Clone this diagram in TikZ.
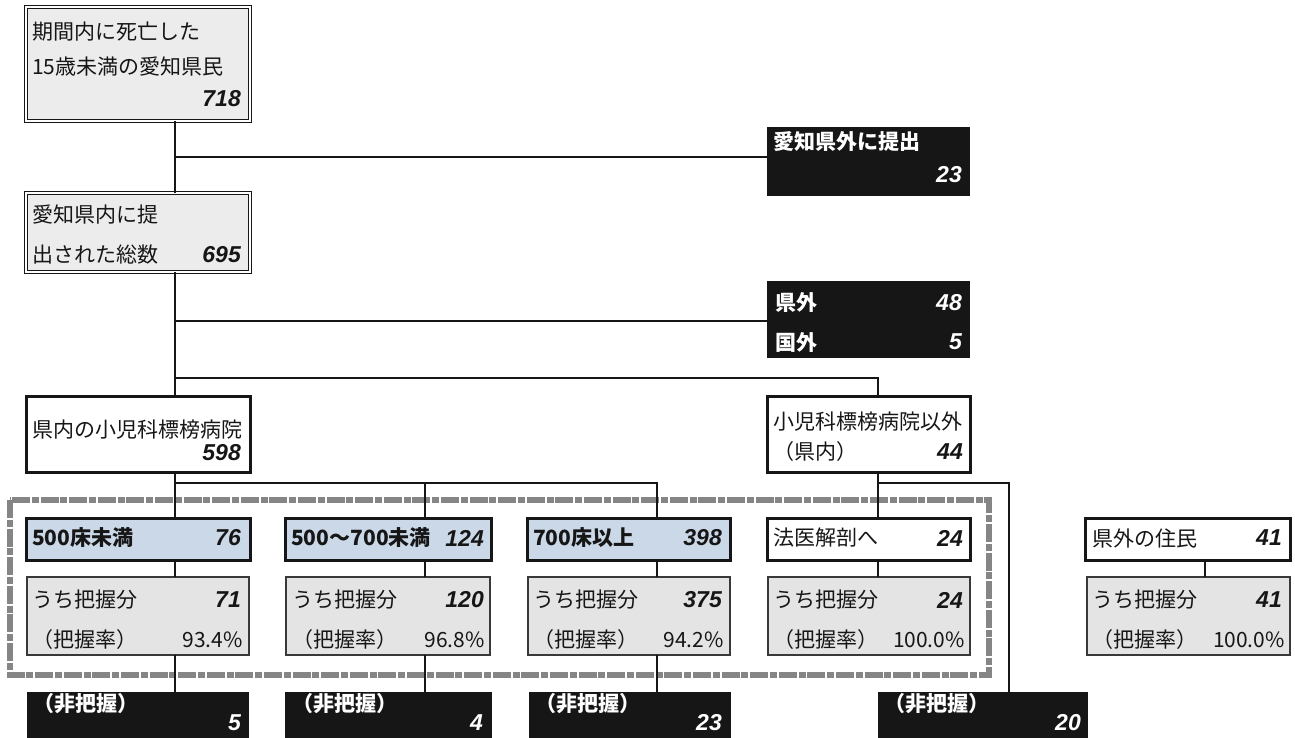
\documentclass[tikz,border=0pt]{standalone}
\usepackage{fontspec}
\setmainfont{Noto Sans CJK JP}
\newfontfamily\numfont{Liberation Sans}
\usetikzlibrary{calc}
\definecolor{topgray}{HTML}{ECECEC}
\definecolor{midgray}{HTML}{E4E4E4}
\definecolor{lblue}{HTML}{CBD8E8}
\definecolor{ink}{HTML}{161616}
\definecolor{dashgray}{HTML}{858585}
\newcommand\mkbox[6]{\node[#2, minimum width={#5-#3}, minimum height={#6-#4}] (#1) at ({(#3+#5)/2},{(#4+#6)/2}) {};}
\begin{document}
\begin{tikzpicture}[x=1pt,y=-1pt,
  basebox/.style={inner sep=0pt, outer sep=0pt},
  dblbox/.style={basebox, draw=ink, line width=0.9pt, double=white, double distance=2pt, fill=topgray},
  heavybox/.style={basebox, draw=ink, line width=3pt, fill=white},
  bluebox/.style={heavybox, fill=lblue},
  greybox/.style={basebox, draw=ink!85, line width=1.2pt, fill=midgray},
  blkbox/.style={basebox, fill=ink},
  jp/.style={inner sep=0pt, font=\fontsize{21}{24}\selectfont, text=ink},
  jpb/.style={jp, font=\fontsize{21}{24}\selectfont\bfseries},
  wt/.style={jpb, text=white},
  num/.style={inner sep=0pt, font=\fontsize{23}{26}\selectfont\numfont\bfseries\itshape, text=ink},
  wnum/.style={num, text=white},
  link/.style={draw=ink, line width=1.3pt},
  frame/.style={draw=dashgray, line width=6.5pt, dash pattern=on 18pt off 1.8pt on 7pt off 1.8pt}
]
\useasboundingbox (0,0) rectangle (1295,738);
\fill[white] (0,0) rectangle (1295,738);

% dashed group frame
\draw[frame] (10,500) rectangle (989,675);

% column coordinates
\coordinate (c1) at (175,0);
\coordinate (c2) at (425,0);
\coordinate (c3) at (657,0);
\coordinate (c4) at (878,0);
\coordinate (c5) at (1205,0);
\coordinate (c6) at (1009,0);

% boxes
\mkbox{n718}{dblbox}{26}{7}{250}{121}
\mkbox{n695}{dblbox}{26}{193}{250}{272}
\mkbox{n23}{blkbox}{767}{127}{970}{196}
\mkbox{n48}{blkbox}{767}{281}{970}{358}
\mkbox{n598}{heavybox}{26}{396}{250}{472}
\mkbox{n44}{heavybox}{767}{396}{970}{472}

\mkbox{b1}{bluebox}{26}{518}{250}{560}
\mkbox{b2}{bluebox}{285}{518}{491}{560}
\mkbox{b3}{bluebox}{527}{518}{730}{560}
\mkbox{b4}{heavybox}{767}{518}{970}{560}
\mkbox{b5}{heavybox}{1085}{518}{1290}{560}

\mkbox{g1}{greybox}{27}{577}{249}{655}
\mkbox{g2}{greybox}{286}{577}{490}{655}
\mkbox{g3}{greybox}{528}{577}{730}{655}
\mkbox{g4}{greybox}{768}{577}{970}{655}
\mkbox{g5}{greybox}{1087}{577}{1290}{655}

\mkbox{k1}{blkbox}{27}{692}{249}{760}
\mkbox{k2}{blkbox}{285}{692}{492}{760}
\mkbox{k3}{blkbox}{529}{692}{731}{760}
\mkbox{k4}{blkbox}{878}{692}{1088}{760}

% connectors
\coordinate (j1) at (175,157);
\coordinate (j2) at (175,321);
\coordinate (j3) at (175,378);
\coordinate (j4) at (175,483);
\coordinate (j5) at (878,483);
\draw[link] (n718.south -| c1) -- (n695.north -| c1);
\draw[link] (j1) -- (j1 -| n23.west);
\draw[link] (n695.south -| c1) -- (n598.north -| c1);
\draw[link] (j2) -- (j2 -| n48.west);
\draw[link] (j3) -| (n44.north -| c4);
\draw[link] (n598.south -| c1) -- (b1.north -| c1);
\draw[link] (j4) -| (b3.north -| c3);
\draw[link] (j4 -| c2) -- (b2.north -| c2);
\draw[link] (n44.south -| c4) -- (b4.north -| c4);
\draw[link] (j5) -| (k4.north -| c6);
\draw[link] (b1.south -| c1) -- (g1.north -| c1);
\draw[link] (b2.south -| c2) -- (g2.north -| c2);
\draw[link] (b3.south -| c3) -- (g3.north -| c3);
\draw[link] (b4.south -| c4) -- (g4.north -| c4);
\draw[link] (b5.south -| c5) -- (g5.north -| c5);
\draw[link] (g1.south -| c1) -- (k1.north -| c1);
\draw[link] (g2.south -| c2) -- (k2.north -| c2);
\draw[link] (g3.south -| c3) -- (k3.north -| c3);

% texts
\node[jp, anchor=west] (t1) at (32,32) {期間内に死亡した};
\node[jp, anchor=west] (t2) at (32,67) {15歳未満の愛知県民};
\node[num, anchor=east] (t3) at (241,99) {718};

\node[jp, anchor=west] (t4) at (32,215) {愛知県内に提};
\node[jp, anchor=west] (t5) at (32,255) {出された総数};
\node[num, anchor=east] (t6) at (241,255) {695};

\node[wt, anchor=west] (t7) at (773,142) {愛知県外に提出};
\node[wnum, anchor=east] (t8) at (962,175) {23};

\node[wt, anchor=west] (t9) at (775,303) {県外};
\node[wnum, anchor=east] (t10) at (962,303) {48};
\node[wt, anchor=west] (t11) at (775,342) {国外};
\node[wnum, anchor=east] (t12) at (962,342) {5};

\node[jp, anchor=west] (t13) at (32,430) {県内の小児科標榜病院};
\node[num, anchor=east] (t14) at (241,453) {598};

\node[jp, anchor=west] (t15) at (773,422) {小児科標榜病院以外};
\node[jp, anchor=west] (t16) at (773,452) {（県内）};
\node[num, anchor=east] (t17) at (963,452) {44};

\node[jpb, anchor=west] (r1) at (32,538) {500床未満};
\node[num, anchor=east] (r2) at (241,538) {76};
\node[jpb, anchor=west] (r3) at (291,538) {500～700未満};
\node[num, anchor=east] (r4) at (484,538) {124};
\node[jpb, anchor=west] (r5) at (533,538) {700床以上};
\node[num, anchor=east] (r6) at (722,538) {398};
\node[jp, anchor=west] (r7) at (773,538) {法医解剖へ};
\node[num, anchor=east] (r8) at (963,538) {24};
\node[jp, anchor=west] (r9) at (1092,538) {県外の住民};
\node[num, anchor=east] (r10) at (1282,538) {41};

\node[jp, anchor=west] (u1) at (32,600) {うち把握分};
\node[num, anchor=east] (u2) at (241,600) {71};
\node[jp, anchor=west] (u3) at (32,640) {（把握率）};
\node[jp, anchor=east] (u4) at (243,640) {93.4\%};

\node[jp, anchor=west] (u5) at (292,600) {うち把握分};
\node[num, anchor=east] (u6) at (484,600) {120};
\node[jp, anchor=west] (u7) at (292,640) {（把握率）};
\node[jp, anchor=east] (u8) at (485,640) {96.8\%};

\node[jp, anchor=west] (u9) at (533,600) {うち把握分};
\node[num, anchor=east] (u10) at (722,600) {375};
\node[jp, anchor=west] (u11) at (533,640) {（把握率）};
\node[jp, anchor=east] (u12) at (724,640) {94.2\%};

\node[jp, anchor=west] (u13) at (773,600) {うち把握分};
\node[num, anchor=east] (u14) at (963,600) {24};
\node[jp, anchor=west] (u15) at (773,640) {（把握率）};
\node[jp, anchor=east] (u16) at (965,640) {100.0\%};

\node[jp, anchor=west] (u17) at (1092,600) {うち把握分};
\node[num, anchor=east] (u18) at (1282,600) {41};
\node[jp, anchor=west] (u19) at (1092,640) {（把握率）};
\node[jp, anchor=east] (u20) at (1285,640) {100.0\%};

\node[wt, anchor=west] (v1) at (33,704) {（非把握）};
\node[wnum, anchor=east] (v2) at (241,723) {5};
\node[wt, anchor=west] (v3) at (292,704) {（非把握）};
\node[wnum, anchor=east] (v4) at (483,723) {4};
\node[wt, anchor=west] (v5) at (535,704) {（非把握）};
\node[wnum, anchor=east] (v6) at (722,723) {23};
\node[wt, anchor=west] (v7) at (884,704) {（非把握）};
\node[wnum, anchor=east] (v8) at (1081,723) {20};
\end{tikzpicture}
\end{document}
